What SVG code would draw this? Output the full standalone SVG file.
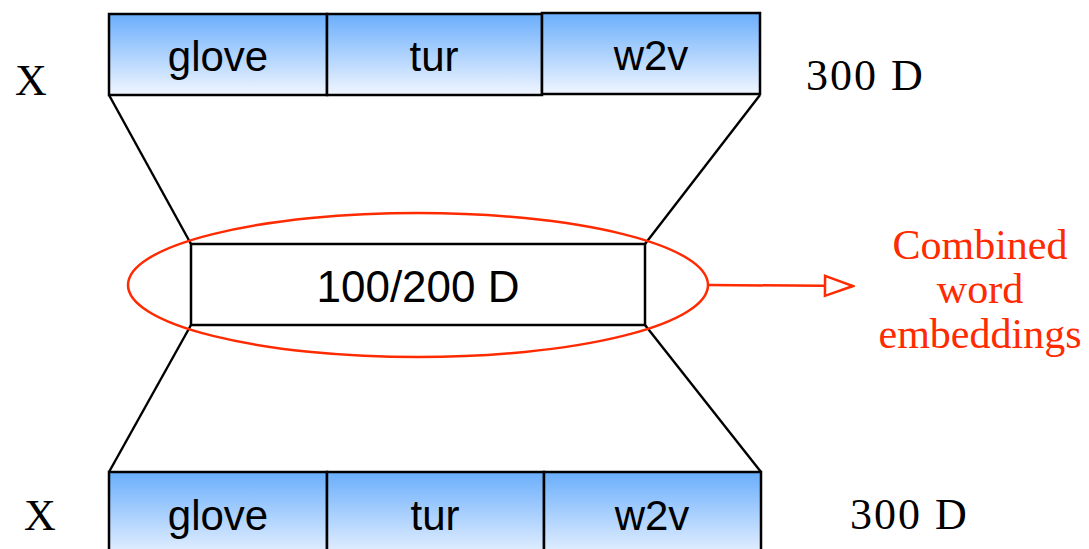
<svg xmlns="http://www.w3.org/2000/svg" width="1089" height="549" viewBox="0 0 1089 549">
  <defs>
    <linearGradient id="cellFill" x1="0" y1="0" x2="0" y2="1">
      <stop offset="0" stop-color="#6aaefc"/>
      <stop offset="1" stop-color="#f0f6ff"/>
    </linearGradient>
    <marker id="hollowHead" viewBox="0 0 32 24" refX="30" refY="12" markerWidth="32" markerHeight="24" markerUnits="userSpaceOnUse" orient="auto">
      <path d="M2,2 L30,12 L2,22 Z" fill="#fff" stroke="#ff2a00" stroke-width="2.5"/>
    </marker>
    <style>
      .cell { fill: url(#cellFill); stroke: #000; stroke-width: 2.5; }
      .box { fill: #fff; stroke: #000; stroke-width: 2.5; }
      .sans { font-family: "Liberation Sans", Arial, sans-serif; font-size: 42px; fill: #000; text-anchor: middle; }
      .serif { font-family: "Liberation Serif", "Times New Roman", serif; font-size: 44px; fill: #000; }
      .note { font-family: "Liberation Serif", "Times New Roman", serif; font-size: 42px; fill: #ff2a00; text-anchor: middle; }
      .edge { stroke: #000; stroke-width: 2.4; fill: none; }
    </style>
  </defs>

  <rect width="1089" height="549" fill="#fff"/>

  <!-- connectors: funnel lines and callout arrow -->
  <g id="connectors">
    <line class="edge" x1="109" y1="95" x2="191" y2="244"/>
    <line class="edge" x1="760" y1="95" x2="645" y2="244"/>
    <line class="edge" x1="191" y1="325" x2="109" y2="472"/>
    <line class="edge" x1="645" y1="325" x2="761" y2="472"/>
    <line x1="708" y1="285" x2="853" y2="286" stroke="#ff2a00" stroke-width="2.5" marker-end="url(#hollowHead)"/>
  </g>

  <!-- input row (top) -->
  <g id="top-row">
    <rect class="cell" x="109" y="14" width="218" height="81"/>
    <rect class="cell" x="327" y="14" width="215" height="81"/>
    <rect class="cell" x="542" y="13" width="218" height="81"/>
    <text class="sans" x="218" y="71">glove</text>
    <text class="sans" x="434" y="71">tur</text>
    <text class="sans" x="651" y="70">w2v</text>
  </g>

  <!-- bottleneck layer -->
  <g id="bottleneck">
    <rect class="box" x="191" y="244" width="454" height="81"/>
    <text class="sans" x="418" y="302" style="font-size:44px">100/200 D</text>
  </g>

  <!-- highlight ellipse -->
  <g id="highlight">
    <ellipse cx="418" cy="285" rx="290" ry="72" fill="none" stroke="#ff2a00" stroke-width="2.5"/>
  </g>

  <!-- output row (bottom) -->
  <g id="bottom-row">
    <rect class="cell" x="109" y="472" width="218" height="90"/>
    <rect class="cell" x="327" y="472" width="217" height="90"/>
    <rect class="cell" x="544" y="472" width="217" height="90"/>
    <text class="sans" x="218" y="530">glove</text>
    <text class="sans" x="435" y="530">tur</text>
    <text class="sans" x="652" y="530">w2v</text>
  </g>

  <!-- side labels -->
  <g id="labels">
    <text class="serif" x="15" y="95">X</text>
    <text class="serif" x="806" y="90" letter-spacing="2">300 D</text>
    <text class="serif" x="24" y="530">X</text>
    <text class="serif" x="850" y="529" letter-spacing="2">300 D</text>
  </g>

  <!-- callout text -->
  <g id="callout">
    <text class="note" x="980" y="259">Combined</text>
    <text class="note" x="980" y="303">word</text>
    <text class="note" x="980" y="348">embeddings</text>
  </g>
</svg>
